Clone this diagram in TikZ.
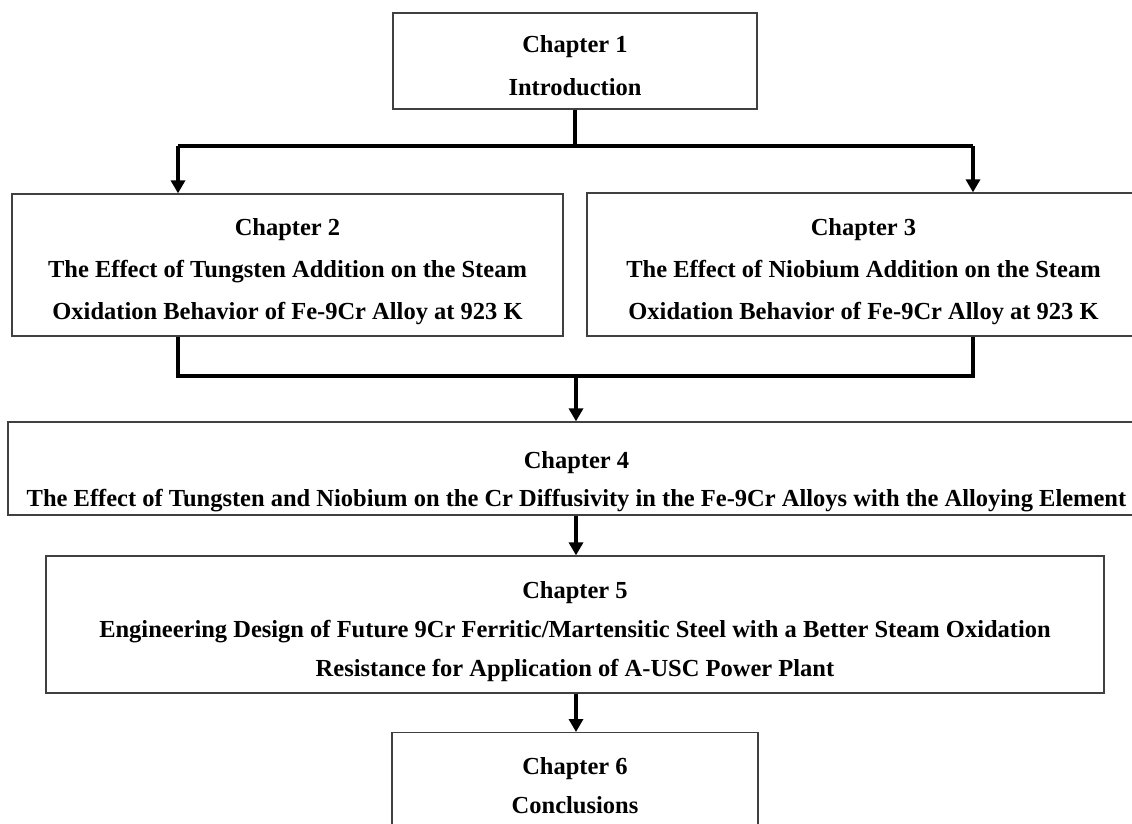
\documentclass[tikz,border=0pt]{standalone}
\usepackage{fontspec}
\setmainfont{Liberation Serif}
\usetikzlibrary{arrows.meta,calc}
\begin{document}
\begin{tikzpicture}[x=1pt,y=-1pt,
  box/.style={draw=black!75,line width=1.3pt,fill=white,inner sep=0pt},
  txt/.style={inner sep=0pt,align=center,font=\fontsize{24.5}{#1}\selectfont\bfseries},
  conn/.style={line width=4pt,line join=miter,line cap=butt},
  arr/.style={conn,-{Triangle[width=14pt,length=13pt]}}]
\useasboundingbox (0,0) rectangle (1132,823);
\fill[white] (0,0) rectangle (1132,823);
\node[box,minimum width=364pt,minimum height=96pt,
  label={[txt=43,yshift=-5pt]center:Chapter 1\\Introduction}] (b1) at (575,61) {};
\node[box,minimum width=551pt,minimum height=142pt,
  label={[txt=42,yshift=-7pt]center:Chapter 2\\The Effect of Tungsten Addition on the Steam\\Oxidation Behavior of Fe-9Cr Alloy at 923 K}] (b2) at (287.5,265) {};
\node[box,minimum width=553pt,minimum height=143pt,
  label={[txt=42,yshift=-7pt]center:Chapter 3\\The Effect of Niobium Addition on the Steam\\Oxidation Behavior of Fe-9Cr Alloy at 923 K}] (b3) at (863.5,264.5) {};
\node[box,minimum width=1137pt,minimum height=93pt,
  label={[txt=38,yshift=-13pt]center:Chapter 4\\The Effect of Tungsten and Niobium on the Cr Diffusivity in the Fe-9Cr Alloys with the Alloying Element}] (b4) at (576.5,468.5) {};
\node[box,minimum width=1058pt,minimum height=137pt,
  label={[txt=39,yshift=-7pt]center:Chapter 5\\Engineering Design of Future 9Cr Ferritic/Martensitic Steel with a Better Steam Oxidation\\Resistance for Application of A-USC Power Plant}] (b5) at (575,624.5) {};
\node[box,minimum width=366pt,minimum height=108pt,anchor=north] (b6) at (575,732) {};
\node[txt=39] (t6) at (575,786) {Chapter 6\\Conclusions};
\coordinate (l1) at (178,146);
\coordinate (r1) at (973,146);
\coordinate (l2) at (178,376);
\coordinate (r2) at (973,376);
\coordinate (m2) at (576,376);
\draw[conn] (b1.south) |- (l1);
\draw[conn] (b1.south) |- (r1);
\draw[arr] (l1) -- (b2.north -| l1);
\draw[arr] (r1) -- (b3.north -| r1);
\draw[conn] (b2.south -| l2) -- (l2) -- (r2) -- (b3.south -| r2);
\draw[arr] (m2) -- (b4.north -| m2);
\draw[arr] (b4.south -| m2) -- (b5.north -| m2);
\draw[arr] (b5.south -| m2) -- (b6.north -| m2);
\end{tikzpicture}
\end{document}
